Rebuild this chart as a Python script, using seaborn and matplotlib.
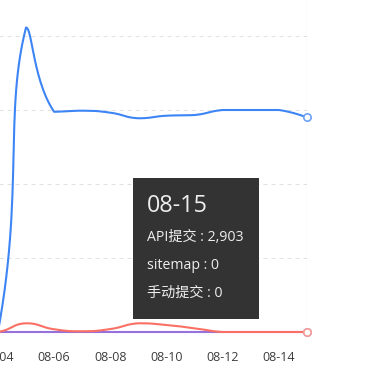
import numpy as np
import pandas as pd
import matplotlib
matplotlib.use("Agg")
import matplotlib.pyplot as plt
import seaborn as sns
from matplotlib.patches import Rectangle

# ---- data -------------------------------------------------------------
dates = ["08-02", "08-03", "08-04", "08-05", "08-06", "08-07", "08-08",
         "08-09", "08-10", "08-11", "08-12", "08-13", "08-14", "08-15"]
api_submit = [0, 0, 0, 4120, 2980, 2995, 2968, 2892, 2927, 2936,
              3004, 3004, 3004, 2903]
sitemap_submit = [0, 0, 0, 0, 0, 0, 0, 0, 0, 0, 0, 0, 0, 0]
manual_submit = [0, 0, 0, 118, 37, 10, 40, 118, 95, 50, 0, 0, 0, 0]
series_names = ["API提交", "sitemap", "手动提交"]
tick_dates = dates[::2]
grid_values = [1000, 2000, 3000, 4000]
hover_index = len(dates) - 1

colors = ["#3d85f5", "#9670dc", "#fa7064"]
ring_colors = ["#6ea2f6", "#b096e4", "#f59c96"]

# ---- style ------------------------------------------------------------
sns.set_theme(style="white")
plt.rcParams["font.family"] = ["Open Sans", "Noto Sans CJK SC", "DejaVu Sans"]

W, H, DPI = 378, 388, 100
fig = plt.figure(figsize=(W / DPI, H / DPI), dpi=DPI)

# plot area: category axis with the first/last day on its edges
step_px = 28.1
right_px = 307.0
left_px = right_px - step_px * (len(dates) - 1)
base_px = 332.0
ax = fig.add_axes([left_px / W, (H - base_px) / H,
                   (right_px - left_px) / W, base_px / H])
px_per_k = 73.9
ax.set_xlim(0, len(dates) - 1)
ax.set_ylim(0, base_px / px_per_k * 1000)
for s in ax.spines.values():
    s.set_visible(False)


def smooth_path(xs, ys, smooth=0.5, n=30):
    """Screen-space Bezier smoothing; control points stay inside each segment's box."""
    pts = ax.transData.transform(np.column_stack([xs, ys]))
    out = [pts[0]]
    cp0 = pts[0].copy()
    v = np.zeros(2)
    N = len(pts)
    t = np.linspace(0, 1, n)[1:][:, None]
    for i in range(1, N):
        p, prev = pts[i], pts[i - 1]
        ratio = 0.5
        if i == N - 1:
            cp1 = p.copy()
        else:
            nxt = pts[i + 1]
            v = nxt - prev
            lp = np.hypot(*(p - prev))
            ln = np.hypot(*(p - nxt))
            ratio = ln / (ln + lp)
            cp1 = p - v * smooth * (1 - ratio)
        lo, hi = np.minimum(prev, p), np.maximum(prev, p)
        c0 = np.clip(cp0, lo, hi)
        c1 = np.clip(cp1, lo, hi)
        seg = ((1 - t) ** 3) * prev + 3 * ((1 - t) ** 2) * t * c0 \
            + 3 * (1 - t) * t ** 2 * c1 + t ** 3 * p
        out.extend(seg)
        cp0 = p + v * smooth * ratio
    data = ax.transData.inverted().transform(np.array(out))
    return data[:, 0], data[:, 1]


frames = []
for name, vals in zip(series_names, [api_submit, sitemap_submit, manual_submit]):
    sx, sy = smooth_path(np.arange(len(dates)), np.array(vals, float))
    frames.append(pd.DataFrame({"day": sx, "count": sy, "series": name}))
curves = pd.concat(frames, ignore_index=True)

# dashed horizontal grid
ax.set_yticks(grid_values)
ax.yaxis.grid(True, color="#e0e0e0", linewidth=0.72, linestyle=(0, (4, 4)))
ax.xaxis.grid(False)
ax.tick_params(axis="y", left=False, labelleft=False)

# hover pointer line
ax.axvline(hover_index, color="#cccccc", linewidth=0.8, zorder=1.5)

sns.lineplot(data=curves, x="day", y="count", hue="series",
             hue_order=series_names, palette=colors, sort=False,
             estimator=None, linewidth=1.5, legend=False, ax=ax,
             zorder=3, clip_on=False)
for line in ax.get_lines()[1:]:
    line.set_solid_capstyle("round")
    line.set_solid_joinstyle("round")

# emphasised symbols on the hovered day
for name, vals, rc in zip(series_names,
                          [api_submit, sitemap_submit, manual_submit], ring_colors):
    pt = pd.DataFrame({"day": [hover_index], "count": [vals[hover_index]]})
    sns.scatterplot(data=pt, x="day", y="count", ax=ax, s=28, color="white",
                    edgecolor=rc, linewidth=1.2, zorder=4, clip_on=False,
                    legend=False)

ax.set_xticks(range(0, len(dates), 2))
ax.set_xticklabels(tick_dates)
ax.tick_params(axis="x", bottom=False, pad=7.8, labelsize=9,
               labelcolor="#3c3c3c")
ax.set_xlabel("")
ax.set_ylabel("")

# tooltip
box_l, box_t, box_r, box_b = 133, 178, 259, 319
fig.patches.append(Rectangle((box_l / W, (H - box_b) / H),
                             (box_r - box_l) / W, (box_b - box_t) / H,
                             transform=fig.transFigure, facecolor="#333333",
                             edgecolor="none", zorder=10))
tx = 147 / W
fig.text(tx, (H - 212) / H, dates[hover_index], fontsize=16.8,
         color="#eeeeee", va="baseline", ha="left", zorder=11)
rows = [f"{series_names[0]} : {api_submit[hover_index]:,}",
        f"{series_names[1]} : {sitemap_submit[hover_index]:,}",
        f"{series_names[2]} : {manual_submit[hover_index]:,}"]
for row, base in zip(rows, [241, 269, 297]):
    fig.text(tx, (H - base) / H, row, fontsize=10.2, color="#eeeeee",
             va="baseline", ha="left", zorder=11)

fig.savefig("out.png", dpi=DPI)
